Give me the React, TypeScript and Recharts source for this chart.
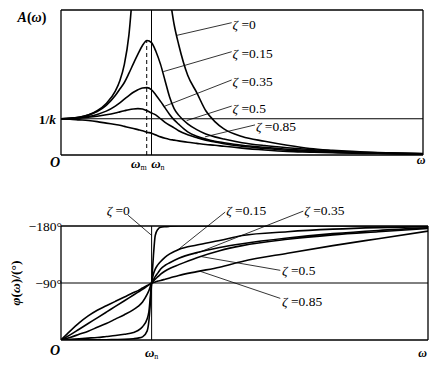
import React from 'react';
import { LineChart, Line, XAxis, YAxis, ReferenceLine, ReferenceDot } from 'recharts';

const FONT = 'Liberation Serif, DejaVu Serif, serif';

// ---------- amplitude panel (u = ω/ωn) ----------
const ampU = [0, 0.1, 0.2, 0.3, 0.4, 0.5, 0.6, 0.65, 0.7, 0.75, 0.8, 0.85, 0.9, 0.95, 1.0, 1.05, 1.1, 1.15, 1.2, 1.25, 1.3, 1.4, 1.5, 1.6, 1.7, 1.8, 2.0, 2.25, 2.5, 2.75, 3.0, 3.5, 4.0];
const ampZ0 = [1, 1.01, 1.04, 1.1, 1.22, 1.42, 1.76, 2.05, 2.5, 3.3, 4.8, null, null, null, null, null, null, null, 4.4, 3.6, 3.05, 2.2, 1.72, 1.22, 0.92, 0.72, 0.51, 0.38, 0.27, 0.18, 0.13, 0.07, 0.04];
const ampZ15 = [1, 1.01, 1.04, 1.1, 1.2, 1.37, 1.64, 1.82, 2.0, 2.25, 2.52, 2.78, 3.02, 3.16, 3.1, 2.85, 2.5, 2.05, 1.6, 1.28, 1.1, 0.86, 0.7, 0.58, 0.5, 0.44, 0.34, 0.26, 0.2, 0.15, 0.11, 0.06, 0.03];
const ampZ35 = [1, 1.01, 1.03, 1.06, 1.12, 1.21, 1.35, 1.44, 1.54, 1.64, 1.73, 1.8, 1.85, 1.86, 1.8, 1.65, 1.48, 1.3, 1.12, 0.97, 0.85, 0.64, 0.52, 0.44, 0.38, 0.34, 0.27, 0.21, 0.16, 0.12, 0.09, 0.05, 0.03];
const ampZ5 = [1, 1.0, 1.02, 1.04, 1.07, 1.11, 1.16, 1.19, 1.22, 1.25, 1.27, 1.28, 1.27, 1.22, 1.16, 1.1, 1.0, 0.9, 0.82, 0.75, 0.67, 0.56, 0.48, 0.41, 0.36, 0.31, 0.24, 0.18, 0.13, 0.1, 0.08, 0.05, 0.03];
const ampZ85 = [1, 0.99, 0.97, 0.95, 0.92, 0.88, 0.84, 0.82, 0.79, 0.76, 0.73, 0.7, 0.67, 0.63, 0.6, 0.55, 0.5, 0.46, 0.43, 0.41, 0.39, 0.35, 0.32, 0.29, 0.27, 0.24, 0.19, 0.14, 0.1, 0.08, 0.06, 0.04, 0.02];

// ---------- phase panel (degrees of lag) ----------
const phU = [0, 0.1, 0.2, 0.3, 0.4, 0.5, 0.6, 0.7, 0.8, 0.85, 0.9, 0.95, 0.97, 1.0, 1.02, 1.04, 1.07, 1.1, 1.15, 1.2, 1.3, 1.5, 1.75, 2.0, 2.5, 3.0, 3.5, 4.05];
const phZ0 = [0, 0.1, 0.2, 0.3, 0.4, 0.5, 0.7, 1, 2, 3, 5, 14, 30, 90, 133, 165, 175, 178, 179, 179.5, 180, 180, 180, 180, 180, 180, 180, 180];
const phZ15 = [0, 1, 2, 3, 4, 5.5, 7, 9, 12, 15, 21, 33, 45, 90, 104, 112, 119, 124, 131, 136, 143, 150, 157, 165, 171, 175, 177.5, 179];
const phZ35 = [0, 4, 9, 14, 20, 26, 33, 40, 48, 53, 60, 72, 78, 90, 95, 100, 106, 112, 118, 122, 129, 138, 146, 152, 161, 168, 173, 177];
const phZ5 = [0, 8, 17, 26, 35, 44, 53, 62, 71, 75.5, 80, 85, 87, 90, 93, 96, 100, 104, 109, 113, 119, 130, 141, 149, 159, 166, 171, 176];
const phZ85 = [0, 14, 27, 38, 47, 54, 61, 68, 75, 78, 82, 86, 87.5, 90, 90.8, 91.6, 93, 94, 96, 98, 102, 108, 115, 124, 137, 149, 160, 172];

const zetaLabels = ['0', '0.15', '0.35', '0.5', '0.85'];
const seriesKeys = ['z0', 'z15', 'z35', 'z5', 'z85'];
const phTickLabels = ['\u2212180\u00b0', '\u221290\u00b0'];
const omegaM = 0.947;

// annotation anchors (data coordinates): [lineStartU, lineStartV, lineEndU, lineEndV]
const ampLeaders = [
  [1.278, 3.3, 1.886, 3.65],
  [1.13, 2.3, 1.886, 2.85],
  [1.149, 1.35, 1.886, 2.07],
  [1.389, 0.95, 1.886, 1.35],
  [1.59, 0.5, 2.144, 0.83],
];
const phLeaders = [
  [1.002, 165, 0.74, 197],
  [1.278, 141, 1.812, 202],
  [1.48, 136, 2.674, 203.5],
  [1.536, 132, 2.42, 110],
  [1.536, 108.5, 2.42, 65.7],
];
const phLabelPos = [
  [0.76, 204.5, 'end'],
  [1.823, 206, 'start'],
  [2.685, 206, 'start'],
  [2.44, 110, 'start'],
  [2.44, 62, 'start'],
];

const ampData = ampU.map((u, i) => ({ u, z0: ampZ0[i], z15: ampZ15[i], z35: ampZ35[i], z5: ampZ5[i], z85: ampZ85[i] }));
const phData = phU.map((u, i) => ({ u, z0: phZ0[i], z15: phZ15[i], z35: phZ35[i], z5: phZ5[i], z85: phZ85[i] }));

type DotP = { cx?: number; cy?: number };

function textShape(content: React.ReactNode, anchor: string, size = 13.5, extra: any = {}) {
  return (p: DotP) => (
    <text
      x={p.cx}
      y={p.cy}
      textAnchor={anchor as any}
      dominantBaseline="central"
      fontFamily={FONT}
      fontSize={size}
      fill="#000"
      style={{ fontFamily: FONT }}
      {...extra}
    >
      {content}
    </text>
  );
}

const zetaText = (v: string) => (
  <>
    <tspan fontStyle="italic">ζ</tspan>
    <tspan> ={v}</tspan>
  </>
);

const omegaSub = (sub: string) => (
  <>
    <tspan fontStyle="italic" fontWeight="bold">ω</tspan>
    <tspan fontSize={8} dy={4}>{sub}</tspan>
  </>
);

const curveProps = {
  type: 'monotone' as const,
  stroke: '#000',
  strokeWidth: 1.6,
  dot: false,
  activeDot: false,
  isAnimationActive: false,
};

export default function App() {
  return (
    <div style={{ position: 'absolute', left: 0, top: 0, width: 439, height: 368, background: '#fff', fontFamily: FONT }}>
      <div style={{ position: 'absolute', left: 0, top: 0 }}>
        <LineChart width={439} height={185} data={ampData} margin={{ top: 10, left: 61, right: 16, bottom: 30 }}>
          <XAxis dataKey="u" type="number" domain={[0, 4]} allowDataOverflow hide />
          <YAxis type="number" domain={[0, 4]} allowDataOverflow hide />
          <ReferenceLine y={1} stroke="#000" strokeWidth={1} />
          <ReferenceLine x={1} stroke="#000" strokeWidth={1} />
          <ReferenceLine
            segment={[{ x: omegaM, y: 0 }, { x: omegaM, y: 3.16 }]}
            stroke="#000"
            strokeWidth={1}
            strokeDasharray="4 3"
          />
          {seriesKeys.map((k) => (
            <Line key={k} dataKey={k} {...curveProps} />
          ))}
          <ReferenceLine y={4} stroke="#000" strokeWidth={1.3} ifOverflow="visible" />
          <ReferenceLine y={0} stroke="#000" strokeWidth={1.3} ifOverflow="visible" />
          <ReferenceLine x={0} stroke="#000" strokeWidth={1.3} ifOverflow="visible" />
          <ReferenceLine x={4} stroke="#000" strokeWidth={1.3} ifOverflow="visible" />
          {ampLeaders.map((l, i) => (
            <ReferenceLine
              key={'al' + i}
              segment={[{ x: l[0], y: l[1] }, { x: l[2], y: l[3] }]}
              stroke="#000"
              strokeWidth={0.8}
              ifOverflow="visible"
            />
          ))}
          {ampLeaders.map((l, i) => (
            <ReferenceDot
              key={'at' + i}
              x={l[2] + 0.01}
              y={l[3] - 0.04}
              r={0}
              ifOverflow="visible"
              shape={textShape(zetaText(zetaLabels[i]), 'start')}
            />
          ))}
          <ReferenceDot
            x={-0.48}
            y={3.8}
            r={0}
            ifOverflow="visible"
            shape={textShape(
              <>
                <tspan fontStyle="italic">A</tspan>
                <tspan>(</tspan>
                <tspan fontStyle="italic">ω</tspan>
                <tspan>)</tspan>
              </>,
              'start',
              14,
              { fontWeight: 'bold' }
            )}
          />
          <ReferenceDot
            x={-0.055}
            y={1}
            r={0}
            ifOverflow="visible"
            shape={textShape(
              <>
                <tspan>1/</tspan>
                <tspan fontStyle="italic">k</tspan>
              </>,
              'end',
              13.5,
              { fontWeight: 'bold' }
            )}
          />
          <ReferenceDot x={-0.066} y={-0.22} r={0} ifOverflow="visible"
            shape={textShape('O', 'middle', 14, { fontWeight: 'bold', fontStyle: 'italic' })} />
          <ReferenceDot x={0.86} y={-0.22} r={0} ifOverflow="visible"
            shape={textShape(omegaSub('m'), 'middle', 13)} />
          <ReferenceDot x={1.07} y={-0.22} r={0} ifOverflow="visible"
            shape={textShape(omegaSub('n'), 'middle', 13)} />
          <ReferenceDot x={3.98} y={-0.14} r={0} ifOverflow="visible"
            shape={textShape('ω', 'middle', 12, { fontWeight: 'bold', fontStyle: 'italic' })} />
        </LineChart>
      </div>

      <div style={{ position: 'absolute', left: 0, top: 190 }}>
        <LineChart width={439} height={178} data={phData} margin={{ top: 36, left: 61, right: 11, bottom: 28 }}>
          <XAxis dataKey="u" type="number" domain={[0, 4.05]} allowDataOverflow hide />
          <YAxis type="number" domain={[0, 180]} allowDataOverflow hide />
          <ReferenceLine y={90} stroke="#000" strokeWidth={1} />
          <ReferenceLine x={1} stroke="#000" strokeWidth={1} />
          {seriesKeys.map((k) => (
            <Line key={k} dataKey={k} {...curveProps} />
          ))}
          <ReferenceLine y={180} stroke="#000" strokeWidth={1.3} ifOverflow="visible" />
          <ReferenceLine y={0} stroke="#000" strokeWidth={1.3} ifOverflow="visible" />
          <ReferenceLine x={0} stroke="#000" strokeWidth={1.3} ifOverflow="visible" />
          <ReferenceLine x={4.05} stroke="#000" strokeWidth={1.3} ifOverflow="visible" />
          {phLeaders.map((l, i) => (
            <ReferenceLine
              key={'pl' + i}
              segment={[{ x: l[0], y: l[1] }, { x: l[2], y: l[3] }]}
              stroke="#000"
              strokeWidth={0.8}
              ifOverflow="visible"
            />
          ))}
          {phLabelPos.map((p, i) => (
            <ReferenceDot
              key={'pt' + i}
              x={p[0] as number}
              y={p[1] as number}
              r={0}
              ifOverflow="visible"
              shape={textShape(zetaText(zetaLabels[i]), p[2] as string)}
            />
          ))}
          <ReferenceDot x={0.01} y={180} r={0} ifOverflow="visible"
            shape={textShape(phTickLabels[0], 'end', 13.5)} />
          <ReferenceDot x={0.01} y={90} r={0} ifOverflow="visible"
            shape={textShape(phTickLabels[1], 'end', 13.5)} />
          <ReferenceDot
            x={-0.51}
            y={90}
            r={0}
            ifOverflow="visible"
            shape={(p: DotP) => (
              <text
                x={p.cx}
                y={p.cy}
                textAnchor="middle"
                dominantBaseline="central"
                fontFamily={FONT}
                style={{ fontFamily: FONT }}
                fontSize={13.5}
                fontWeight="bold"
                fill="#000"
                transform={`rotate(-90, ${p.cx}, ${p.cy})`}
              >
                <tspan fontStyle="italic">φ</tspan>
                <tspan>(</tspan>
                <tspan fontStyle="italic">ω</tspan>
                <tspan>)/(°)</tspan>
              </text>
            )}
          />
          <ReferenceDot x={-0.066} y={-16} r={0} ifOverflow="visible"
            shape={textShape('O', 'middle', 14, { fontWeight: 'bold', fontStyle: 'italic' })} />
          <ReferenceDot x={1.0} y={-19} r={0} ifOverflow="visible"
            shape={textShape(omegaSub('n'), 'middle', 13)} />
          <ReferenceDot x={3.99} y={-20} r={0} ifOverflow="visible"
            shape={textShape('ω', 'middle', 12, { fontWeight: 'bold', fontStyle: 'italic' })} />
        </LineChart>
      </div>
    </div>
  );
}
